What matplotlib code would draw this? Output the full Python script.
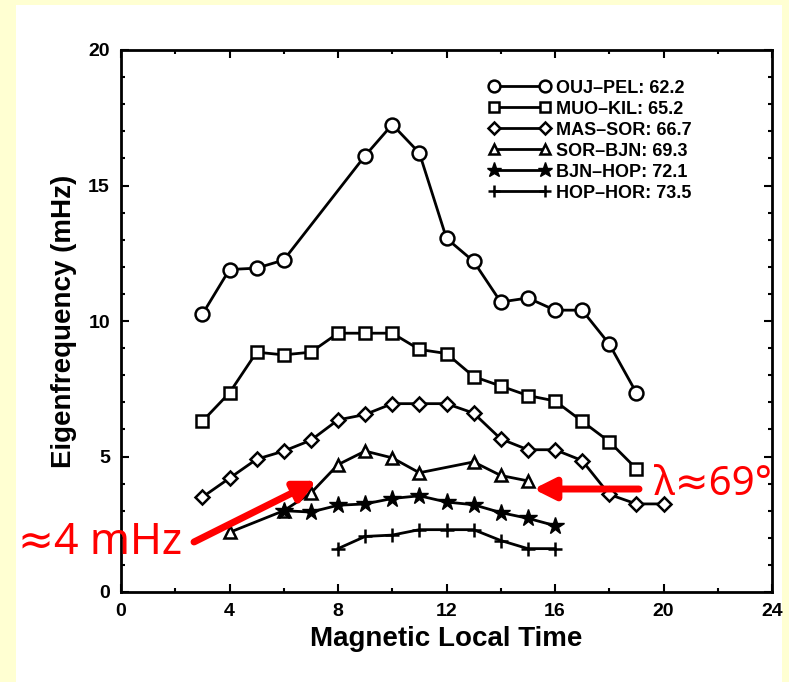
import matplotlib
matplotlib.use("Agg")
import matplotlib.pyplot as plt
from matplotlib.patches import Rectangle
from matplotlib.ticker import MultipleLocator

plt.rcParams['font.family'] = ['Liberation Sans', 'DejaVu Sans']

# 데이터
ouj_x = [3, 4, 5, 6, 9, 10, 11, 12, 13, 14, 15, 16, 17, 18, 19]
ouj_y = [10.25, 11.9, 11.95, 12.25, 16.1, 17.25, 16.2, 13.05, 12.2, 10.7, 10.85, 10.4, 10.4, 9.15, 7.35]

muo_x = list(range(3, 20))
muo_y = [6.3, 7.35, 8.85, 8.75, 8.85, 9.55, 9.55, 9.55, 8.95, 8.8, 7.95, 7.6, 7.25, 7.05, 6.3, 5.55, 4.55]

mas_x = list(range(3, 21))
mas_y = [3.5, 4.2, 4.9, 5.2, 5.6, 6.35, 6.55, 6.95, 6.95, 6.95, 6.6, 5.65, 5.25, 5.25, 4.85, 3.6, 3.25, 3.25]

sor_x = [4, 6, 7, 8, 9, 10, 11, 13, 14, 15]
sor_y = [2.2, 3.0, 3.65, 4.7, 5.2, 4.95, 4.4, 4.8, 4.3, 4.1]

bjn_x = list(range(6, 17))
bjn_y = [3.0, 2.95, 3.2, 3.25, 3.45, 3.55, 3.32, 3.22, 2.93, 2.72, 2.45]

hop_x = list(range(8, 17))
hop_y = [1.6, 2.05, 2.1, 2.3, 2.3, 2.3, 1.9, 1.6, 1.6]

labels = ['OUJ\u2013PEL: 62.2', 'MUO\u2013KIL: 65.2', 'MAS\u2013SOR: 66.7',
          'SOR\u2013BJN: 69.3', 'BJN\u2013HOP: 72.1', 'HOP\u2013HOR: 73.5']

fig = plt.figure(figsize=(7.89, 6.82), dpi=100)
fig.patch.set_facecolor('#FFFFD2')
fig.patches.append(Rectangle((16 / 789, 0), (782 - 16) / 789, 1 - 5 / 682,
                             transform=fig.transFigure, facecolor='white',
                             edgecolor='none', zorder=-10))

ax = fig.add_axes([121 / 789, 1 - 592 / 682, (772 - 121) / 789, (592 - 50) / 682])
ax.set_zorder(1)

kw = dict(color='black', lw=2, mec='black')
ax.plot(ouj_x, ouj_y, marker='o', ms=10, mfc='white', mew=1.8, label=labels[0], **kw)
ax.plot(muo_x, muo_y, marker='s', ms=8.5, mfc='white', mew=1.8, label=labels[1], **kw)
ax.plot(mas_x, mas_y, marker='D', ms=7, mfc='white', mew=1.8, label=labels[2], **kw)
ax.plot(sor_x, sor_y, marker='^', ms=9, mfc='white', mew=1.8, label=labels[3], **kw)
ax.plot(bjn_x, bjn_y, marker='*', ms=13, mfc='black', mew=1, label=labels[4], **kw)
ax.plot(hop_x, hop_y, marker='+', ms=10, mew=1.8, label=labels[5], **kw)

ax.set_xlim(0, 24)
ax.set_ylim(0, 20)
ax.xaxis.set_major_locator(MultipleLocator(4))
ax.xaxis.set_minor_locator(MultipleLocator(2))
ax.yaxis.set_major_locator(MultipleLocator(5))
ax.yaxis.set_minor_locator(MultipleLocator(1))
ax.tick_params(which='both', direction='in', top=True, right=True, width=1.5)
ax.tick_params(which='major', length=6, labelsize=14, pad=8)
ax.tick_params(which='minor', length=3)
for lab in ax.get_xticklabels() + ax.get_yticklabels():
    lab.set_fontweight('bold')
for sp in ax.spines.values():
    sp.set_linewidth(2)

ax.set_xlabel('Magnetic Local Time', fontsize=20, fontweight='bold', labelpad=4)
ax.set_ylabel('Eigenfrequency (mHz)', fontsize=20, fontweight='bold', labelpad=8)

leg = ax.legend(loc='upper left', bbox_to_anchor=(0.54, 0.975), frameon=False,
                numpoints=2, handlelength=3.4, handletextpad=0.3,
                labelspacing=0.22, markerscale=0.85,
                prop={'size': 13, 'weight': 'bold'})

# 빨간 화살표와 주석
ax.annotate('', xy=(7.3, 4.15), xytext=(2.6, 1.8), annotation_clip=False,
            arrowprops=dict(arrowstyle='-|>', color='red', lw=5, mutation_scale=32))
ax.annotate('', xy=(15.1, 3.8), xytext=(19.2, 3.8), annotation_clip=False,
            arrowprops=dict(arrowstyle='-|>', color='red', lw=5, mutation_scale=32))
fig.text(100 / 789, 1 - 543 / 682, '\u22484 mHz', color='red', fontsize=31,
         family=['Noto Sans', 'DejaVu Sans'], ha='center', va='center', zorder=5)
fig.text(713 / 789, 1 - 485 / 682, '\u03bb\u224869\u00b0', color='red', fontsize=29,
         family=['Noto Sans', 'DejaVu Sans'], ha='center', va='center', zorder=5)

fig.savefig('out.png', dpi=100, facecolor=fig.get_facecolor())
